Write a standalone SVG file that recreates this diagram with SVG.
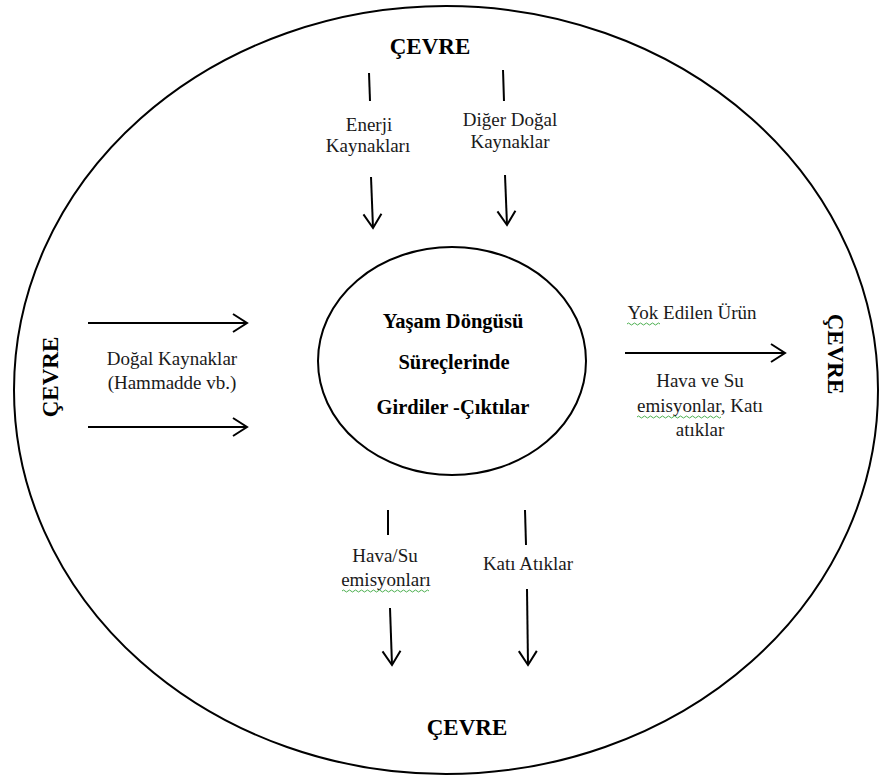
<svg xmlns="http://www.w3.org/2000/svg" width="880" height="778" viewBox="0 0 880 778">
<style>
.ln{stroke:#000;stroke-width:2;fill:none}
.t{font-family:"Liberation Serif","Times New Roman",serif;font-size:19px;fill:#1a1a1a;text-anchor:middle}
.b{font-family:"Liberation Serif","Times New Roman",serif;font-size:20.5px;font-weight:bold;fill:#000;text-anchor:middle}
.c{font-family:"Liberation Serif","Times New Roman",serif;font-size:23px;font-weight:bold;fill:#000;text-anchor:middle}
.sq{stroke:#4caf50;stroke-width:1;fill:none}
</style>
<defs>
<marker id="ah" markerUnits="userSpaceOnUse" markerWidth="24" markerHeight="24" refX="16" refY="12" orient="auto">
<polyline points="2,3 16,12 2,21" fill="none" stroke="#000" stroke-width="2"/>
</marker>
</defs>
<g id="outer">
<ellipse cx="446" cy="390" rx="432" ry="384" class="ln"/>
</g>
<g id="center">
<ellipse cx="452" cy="361" rx="134" ry="114" class="ln"/>
<text class="b" x="453" y="328">Yaşam Döngüsü</text>
<text class="b" x="454" y="369">Süreçlerinde</text>
<text class="b" x="453" y="414">Girdiler -Çıktılar</text>
</g>
<g id="cevre-top"><text class="c" x="430" y="54">ÇEVRE</text></g>
<g id="cevre-bottom"><text class="c" x="467" y="735">ÇEVRE</text></g>
<g id="cevre-left"><text class="c" transform="translate(58,377) rotate(-90)">ÇEVRE</text></g>
<g id="cevre-right"><text class="c" transform="translate(828,354) rotate(90)">ÇEVRE</text></g>
<g id="label-enerji">
<text class="t" x="369" y="131">Enerji</text>
<text class="t" x="368" y="152">Kaynakları</text>
</g>
<g id="label-diger">
<text class="t" x="510" y="126">Diğer Doğal</text>
<text class="t" x="510" y="148">Kaynaklar</text>
</g>
<g id="label-dogal">
<text class="t" x="172" y="365">Doğal Kaynaklar</text>
<text class="t" x="172" y="389">(Hammadde vb.)</text>
</g>
<g id="label-yok">
<text class="t" x="692" y="319">Yok Edilen Ürün</text>
<path class="sq" d="M627,324 q1.5,-2 3,0 t3,0 t3,0 t3,0 t3,0 t3,0 t3,0 t3,0 t3,0 t3,0 t3,0"/>
</g>
<g id="label-hava-right">
<text class="t" x="700" y="387">Hava ve Su</text>
<text class="t" x="700" y="412">emisyonlar, Katı</text>
<text class="t" x="700" y="436">atıklar</text>
<path class="sq" d="M637,417 q1.5,-2 3,0 t3,0 t3,0 t3,0 t3,0 t3,0 t3,0 t3,0 t3,0 t3,0 t3,0 t3,0 t3,0 t3,0 t3,0 t3,0 t3,0 t3,0 t3,0 t3,0 t3,0 t3,0 t3,0 t3,0 t3,0 t3,0 t3,0 t3,0"/>
</g>
<g id="label-hava-bottom">
<text class="t" x="385" y="562">Hava/Su</text>
<text class="t" x="386" y="586">emisyonları</text>
<path class="sq" d="M342,591 q1.5,-2 3,0 t3,0 t3,0 t3,0 t3,0 t3,0 t3,0 t3,0 t3,0 t3,0 t3,0 t3,0 t3,0 t3,0 t3,0 t3,0 t3,0 t3,0 t3,0 t3,0 t3,0 t3,0 t3,0 t3,0 t3,0 t3,0 t3,0 t3,0 t3,0"/>
</g>
<g id="label-kati">
<text class="t" x="528" y="570">Katı Atıklar</text>
</g>
<g id="connectors">
<line class="ln" x1="369" y1="73" x2="370" y2="101"/>
<line class="ln" x1="371" y1="177" x2="373" y2="228" marker-end="url(#ah)"/>
<line class="ln" x1="503" y1="70" x2="504" y2="101"/>
<line class="ln" x1="505" y1="175" x2="507" y2="225" marker-end="url(#ah)"/>
<line class="ln" x1="88" y1="323" x2="247" y2="323" marker-end="url(#ah)"/>
<line class="ln" x1="88" y1="427" x2="247" y2="427" marker-end="url(#ah)"/>
<line class="ln" x1="625" y1="353" x2="785" y2="353" marker-end="url(#ah)"/>
<line class="ln" x1="388" y1="510" x2="388" y2="535"/>
<line class="ln" x1="390" y1="608" x2="392" y2="665" marker-end="url(#ah)"/>
<line class="ln" x1="525" y1="510" x2="526" y2="545"/>
<line class="ln" x1="527" y1="589" x2="528" y2="665" marker-end="url(#ah)"/>
</g>
</svg>
